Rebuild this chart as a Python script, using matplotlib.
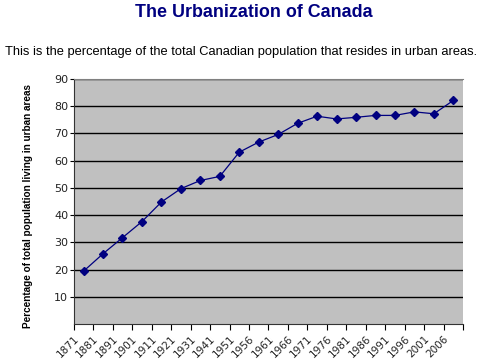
import numpy as np
import matplotlib.pyplot as plt

years = ['1871', '1881', '1891', '1901', '1911', '1921', '1931', '1941', '1951', '1956',
         '1961', '1966', '1971', '1976', '1981', '1986', '1991', '1996', '2001', '2006']
urban_pct = [19.4, 25.8, 31.7, 37.6, 44.8, 49.7, 52.7, 54.2, 63.1, 66.8,
             69.6, 73.7, 76.3, 75.3, 75.9, 76.6, 76.6, 77.9, 77.2, 82.1]
y_ticks = [10, 20, 30, 40, 50, 60, 70, 80, 90]

fig = plt.figure(figsize=(4.89, 3.62), dpi=100)
fig.patch.set_facecolor('white')

fig.text(0.52, 0.965, 'The Urbanization of Canada', ha='center', va='center',
         fontsize=12.9, fontweight='bold', color='#000080', family='Liberation Sans')
fig.text(0.01, 0.857, 'This is the percentage of the total Canadian population that resides in urban areas.',
         ha='left', va='center', fontsize=9.3, color='black', family='Liberation Sans')

ax = fig.add_axes([0.151, 0.105, 0.796, 0.677])
ax.set_facecolor('#c0c0c0')

x = np.arange(len(years))
ax.plot(x, urban_pct, color='#000080', lw=0.9, marker='D', ms=4,
        mfc='#000080', mec='#000080', zorder=3)

ax.set_xlim(-0.5, len(years) - 0.5)
ax.set_ylim(0, 90)
ax.set_yticks(y_ticks)
ax.yaxis.grid(True, color='black', lw=1)
ax.set_axisbelow(True)

# category boundaries carry the ticks and labels
ax.set_xticks(np.arange(len(years) + 1) - 0.5)
ax.set_xticklabels(years + [''], rotation=45, ha='right', va='top',
                   fontsize=7.5, color='#222222', rotation_mode='anchor')
ax.tick_params(axis='x', length=4, width=0.8, pad=3)
ax.tick_params(axis='y', length=3, width=0.8, labelsize=8, labelcolor='#222222', pad=1)

ax.spines['top'].set_color('#808080')
ax.spines['right'].set_visible(False)
ax.spines['left'].set_color('#333333')
ax.spines['bottom'].set_color('#333333')

ax.set_ylabel('Percentage of total population living in urban areas', fontsize=7.2,
              fontweight='bold', family='Liberation Sans')
ax.yaxis.set_label_coords(-0.105, 0.48)

fig.savefig('out.png', dpi=100)
